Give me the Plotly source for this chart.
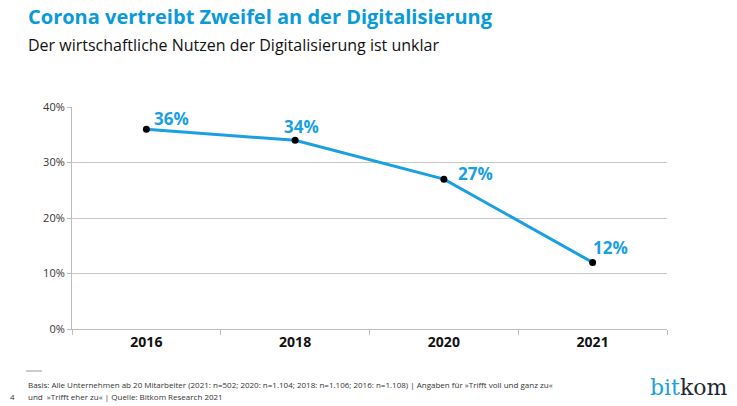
import plotly.graph_objects as go

years = ["2016", "2018", "2020", "2021"]
values = [36, 34, 27, 12]
labels = ["36%", "34%", "27%", "12%"]
label_dx = [25, 6, 32, 18]
label_dy = [11, 14, 6, 15]
y_ticks = [0, 10, 20, 30, 40]
y_ticklabels = ["0%", "10%", "20%", "30%", "40%"]

BLUE = "#1a9fe0"
TITLE_BLUE = "#0a9ad9"
FONT = "Open Sans"

OFF = 8  # page body margin in the browser
W, H = 737 - OFF, 406 - OFF
L, R, T, B = 72 - OFF, 70, 107 - OFF, 77
PW, PH = W - L - R, H - T - B


def px(x):
    return (x - OFF - L) / PW


def py(y):
    return (H - B - (y - OFF)) / PH


fig = go.Figure()
fig.add_trace(go.Scatter(
    x=years, y=values, mode="lines+markers",
    line=dict(color=BLUE, width=3),
    marker=dict(color="black", size=7),
    cliponaxis=False, showlegend=False,
))

fig.update_layout(
    width=W, height=H,
    margin=dict(l=L, r=R, t=T, b=B),
    paper_bgcolor="white", plot_bgcolor="white",
    font=dict(family=FONT, color="#222"),
)
fig.update_xaxes(
    type="category", range=[-0.5, 3.5], automargin=False,
    showline=True, linecolor="#bdbdbd", linewidth=1,
    ticks="outside", ticklen=5, tickcolor="#bdbdbd",
    tickson="boundaries", showgrid=False,
    tickfont=dict(family=FONT, size=14, color="#111", weight="bold"),
)
fig.update_yaxes(
    range=[0, 40], tickvals=y_ticks, ticktext=y_ticklabels, automargin=False,
    showline=True, linecolor="#bdbdbd", linewidth=1,
    ticks="outside", ticklen=4, tickcolor="#bdbdbd",
    showgrid=True, gridcolor="#c8c8c8", gridwidth=1,
    zeroline=False,
    tickfont=dict(family=FONT, size=11, color="#333"),
)

# data labels (category index positions on the x axis)
for i, (v, t, dx, dy) in enumerate(zip(values, labels, label_dx, label_dy)):
    fig.add_annotation(xref="x", yref="y", x=i, y=v, text="<b>" + t + "</b>",
                       showarrow=False, xshift=dx, yshift=dy,
                       font=dict(family=FONT, size=17, color=BLUE))

ann = [
    dict(text="<b>Corona vertreibt Zweifel an der Digitalisierung</b>", x=26, y=17,
         font=dict(family=FONT, size=20, color=TITLE_BLUE)),
    dict(text="Der wirtschaftliche Nutzen der Digitalisierung ist unklar", x=26, y=45,
         font=dict(family=FONT, size=16, color="#111")),
    dict(text="Basis: Alle Unternehmen ab 20 Mitarbeiter (2021: n=502; 2020: n=1.104; 2018: n=1.106; 2016: n=1.108) | Angaben für »Trifft voll und ganz zu«",
         x=26, y=384, font=dict(family=FONT, size=8, color="#333")),
    dict(text="und  »Trifft eher zu« | Quelle: Bitkom Research 2021",
         x=26, y=396, font=dict(family=FONT, size=8, color="#333")),
    dict(text="4", x=8, y=396, font=dict(family=FONT, size=8, color="#333")),
    dict(text="<span style='color:#1a9fe0'>bit</span><span style='color:#1e2a33'>kom</span>",
         x=648, y=387, font=dict(family="DejaVu Serif", size=22)),
]
for a in ann:
    fig.add_annotation(xref="paper", yref="paper", x=px(a["x"]), y=py(a["y"]),
                       xanchor="left", yanchor="middle", showarrow=False,
                       text=a["text"], font=a["font"])

fig.add_shape(type="line", xref="paper", yref="paper",
              x0=px(26), x1=px(42), y0=py(371), y1=py(371),
              line=dict(color="#999", width=1))

fig.write_html("out.html")
